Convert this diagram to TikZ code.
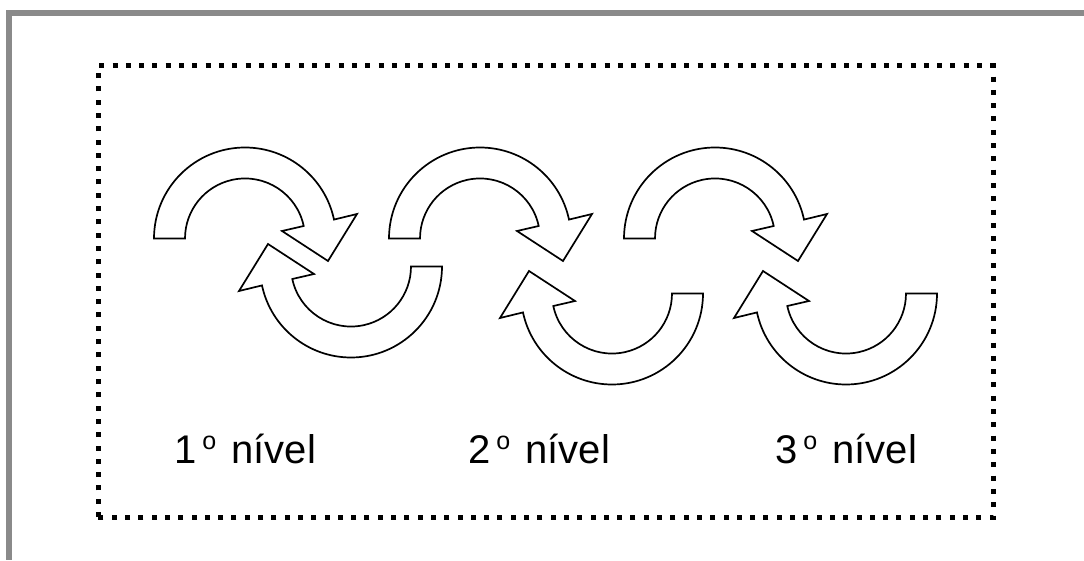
\documentclass[tikz,border=0pt]{standalone}
\usepackage{fontspec}
\setmainfont{Liberation Sans}
\definecolor{framegray}{RGB}{138,138,138}
\newcommand\ordo{\kern6pt\raisebox{14pt}{\fontsize{25}{25}\selectfont o}\kern4pt}
\tikzset{
  arrowshape/.style={draw=black, fill=white, line width=1.7pt, line join=miter},
  pics/cyclearrow/.style={code={
    \draw[arrowshape] (-91,0) arc[start angle=180, end angle=12, radius=91]
      -- (112,24.5) -- (83,-22.5) -- (37,7.5) -- (58.7,12.5)
      arc[start angle=12, end angle=180, radius=60] -- cycle;
  }},
  levellabel/.style={anchor=base west, inner sep=0pt, font=\fontsize{40}{48}\selectfont},
  dotbox/.style={draw=black, line width=5pt, dash pattern=on 5pt off 8.3pt}
}
\begin{document}
\begin{tikzpicture}[x=1pt, y=1pt]
\useasboundingbox (0,0) rectangle (1084,560);
% outer gray frame (top and left edges)
\fill[framegray] (6,0) rectangle (12,550);
\fill[framegray] (6,544) rectangle (1084,550);
% dotted box
\draw[dotbox] (98,43) rectangle (993,494);
% level 1
\pic at (245,321.5) {cyclearrow};
\pic[rotate=180] at (351,293.5) {cyclearrow};
% level 2
\pic at (480,321.5) {cyclearrow};
\pic[rotate=180] at (612,266.5) {cyclearrow};
% level 3
\pic at (715,321.5) {cyclearrow};
\pic[rotate=180] at (846,266.5) {cyclearrow};
% labels
\node[levellabel] (l1) at (174,97) {1\ordo{} nível};
\node[levellabel] (l2) at (468,97) {2\ordo{} nível};
\node[levellabel] (l3) at (775,97) {3\ordo{} nível};
\end{tikzpicture}
\end{document}
